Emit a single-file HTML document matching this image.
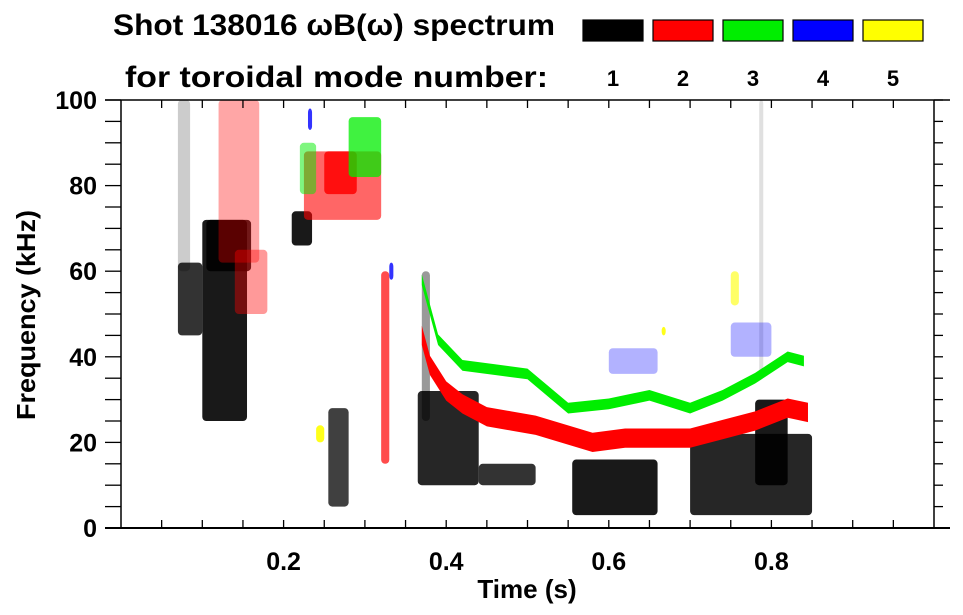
<!DOCTYPE html>
<html><head><meta charset="utf-8"><style>
body{margin:0;background:#fff;}
svg{display:block;font-family:"Liberation Sans",sans-serif;font-weight:bold;}
</style></head><body>
<svg id="chart" width="963" height="615" viewBox="0 0 963 615">
<text x="113" y="35" font-size="30" textLength="442" lengthAdjust="spacingAndGlyphs">Shot 138016 ωB(ω) spectrum</text>
<text x="125" y="87" font-size="30" textLength="423" lengthAdjust="spacingAndGlyphs">for toroidal mode number:</text>
<g id="legend"></g>
<g id="marks"></g>
<g id="axes"></g>
<text x="527" y="598" font-size="26" text-anchor="middle">Time (s)</text>
<text transform="translate(35,315) rotate(-90)" font-size="26" text-anchor="middle" textLength="210" lengthAdjust="spacingAndGlyphs">Frequency (kHz)</text>
</svg>
<script>
const modeColors=["#000000","#ff0000","#00ee00","#0000ff","#ffff00"];
const modeLabels=["1","2","3","4","5"];
const xTicks=[0.2,0.4,0.6,0.8];
const yTicks=[0,20,40,60,80,100];
// patches: time range, frequency range, toroidal mode
const patchT0=[0.10,0.07,0.105,0.07,0.21,0.255,0.365,0.37,0.44,0.555,0.70,0.78,0.785, 0.12,0.225,0.25,0.32,0.14, 0.28,0.22, 0.23,0.33,0.60,0.75, 0.24,0.75,0.665];
const patchT1=[0.155,0.10,0.16,0.085,0.235,0.28,0.44,0.38,0.51,0.66,0.85,0.82,0.79, 0.17,0.32,0.29,0.33,0.18, 0.32,0.24, 0.235,0.335,0.66,0.80, 0.25,0.76,0.67];
const patchF0=[25,45,60,60,66,5,10,25,10,3,3,10,35, 62,72,78,15,50, 82,78, 93,58,36,40, 20,52,45];
const patchF1=[72,62,72,100,74,28,32,60,15,16,22,30,100, 100,88,88,60,65, 96,90, 98,62,42,48, 24,60,47];
const patchMode=[1,1,1,1,1,1,1,1,1,1,1,1,1, 2,2,2,2,2, 3,3, 4,4,4,4, 5,5,5];
const patchDensity=[0.9,0.8,0.85,0.2,0.9,0.75,0.85,0.4,0.8,0.9,0.85,0.9,0.12, 0.35,0.6,0.85,0.7,0.4, 0.75,0.5, 0.8,0.8,0.3,0.3, 0.9,0.6,0.9];
// band-like curves (centre freq vs time)
const redCurveT=[0.37,0.38,0.40,0.42,0.45,0.48,0.51,0.58,0.62,0.66,0.70,0.74,0.78,0.82,0.845];
const redCurveF=[45,38,32,29,26,25,24,20,21,21,21,23,25,28,27];
const greenCurveT=[0.37,0.39,0.42,0.46,0.50,0.55,0.60,0.65,0.70,0.74,0.78,0.82,0.84];
const greenCurveF=[58,44,38,37,36,28,29,31,28,31,35,40,39];
const curveWidth=[4.5,2.5];

const X0=121,X1=934,Y0=528,Y1=100;
const xs=t=>X0+t*(X1-X0);
const ys=f=>Y0-f/100*(Y0-Y1);
const NS="http://www.w3.org/2000/svg";
function mk(tag,attrs,parent){const e=document.createElementNS(NS,tag);for(const k in attrs)e.setAttribute(k,attrs[k]);parent.appendChild(e);return e;}
const marks=document.getElementById("marks");
for(let i=0;i<patchT0.length;i++){
  const r=mk("rect",{x:xs(patchT0[i]),y:ys(patchF1[i]),width:xs(patchT1[i])-xs(patchT0[i]),height:ys(patchF0[i])-ys(patchF1[i]),fill:modeColors[patchMode[i]-1],"fill-opacity":patchDensity[i],rx:4},marks);
  
  
}
function curve(T,F,color,w,name){
  let d="";
  for(let i=0;i<T.length;i++)d+=(i?"L":"M")+xs(T[i])+","+ys(F[i]+w/2);
  for(let i=T.length-1;i>=0;i--)d+="L"+xs(T[i])+","+ys(F[i]-w/2);
  const p=mk("path",{d:d+"Z",fill:color},marks);
  
  
}
curve(greenCurveT,greenCurveF,modeColors[2],curveWidth[1],'mode-3-band');
curve(redCurveT,redCurveF,modeColors[1],curveWidth[0],'mode-2-band');

// axes
const ax=document.getElementById("axes");
mk("line",{x1:105,y1:Y0,x2:950,y2:Y0,stroke:"#000","stroke-width":2},ax);
mk("line",{x1:105,y1:Y1,x2:950,y2:Y1,stroke:"#000","stroke-width":1.5},ax);
mk("line",{x1:X0,y1:Y1,x2:X0,y2:Y0,stroke:"#000","stroke-width":1.5},ax);
mk("line",{x1:X1,y1:Y1,x2:X1,y2:Y0,stroke:"#000","stroke-width":1.5},ax);
for(let f=0;f<=100;f+=5){
  mk("line",{x1:105,y1:ys(f),x2:X0,y2:ys(f),stroke:"#000","stroke-width":1.3},ax);
  mk("line",{x1:X1,y1:ys(f),x2:943,y2:ys(f),stroke:"#000","stroke-width":1.3},ax);
}
for(let t=0.05;t<1;t+=0.05){
  mk("line",{x1:xs(t),y1:Y0,x2:xs(t),y2:Y0-8,stroke:"#000","stroke-width":1.3},ax);
  mk("line",{x1:xs(t),y1:Y1,x2:xs(t),y2:Y1+8,stroke:"#000","stroke-width":1.3},ax);
}
xTicks.forEach(t=>{const e=mk("text",{x:xs(t),y:570,"font-size":25,"text-anchor":"middle"},ax);e.textContent=t.toFixed(1);
  
  });
yTicks.forEach(f=>{const e=mk("text",{x:97,y:ys(f)+9,"font-size":25,"text-anchor":"end"},ax);e.textContent=f;
  
  });
// legend
const lg=document.getElementById("legend");
modeLabels.forEach((m,i)=>{
  const x=583+i*70;
  const r=mk("rect",{x:x,y:20,width:60,height:21,fill:modeColors[i],stroke:"#000","stroke-width":1.2},lg);
  
  
  const t=mk("text",{x:x+30,y:86,"font-size":22,"text-anchor":"middle"},lg);t.textContent=m;
  
  
});
</script>
</body></html>
